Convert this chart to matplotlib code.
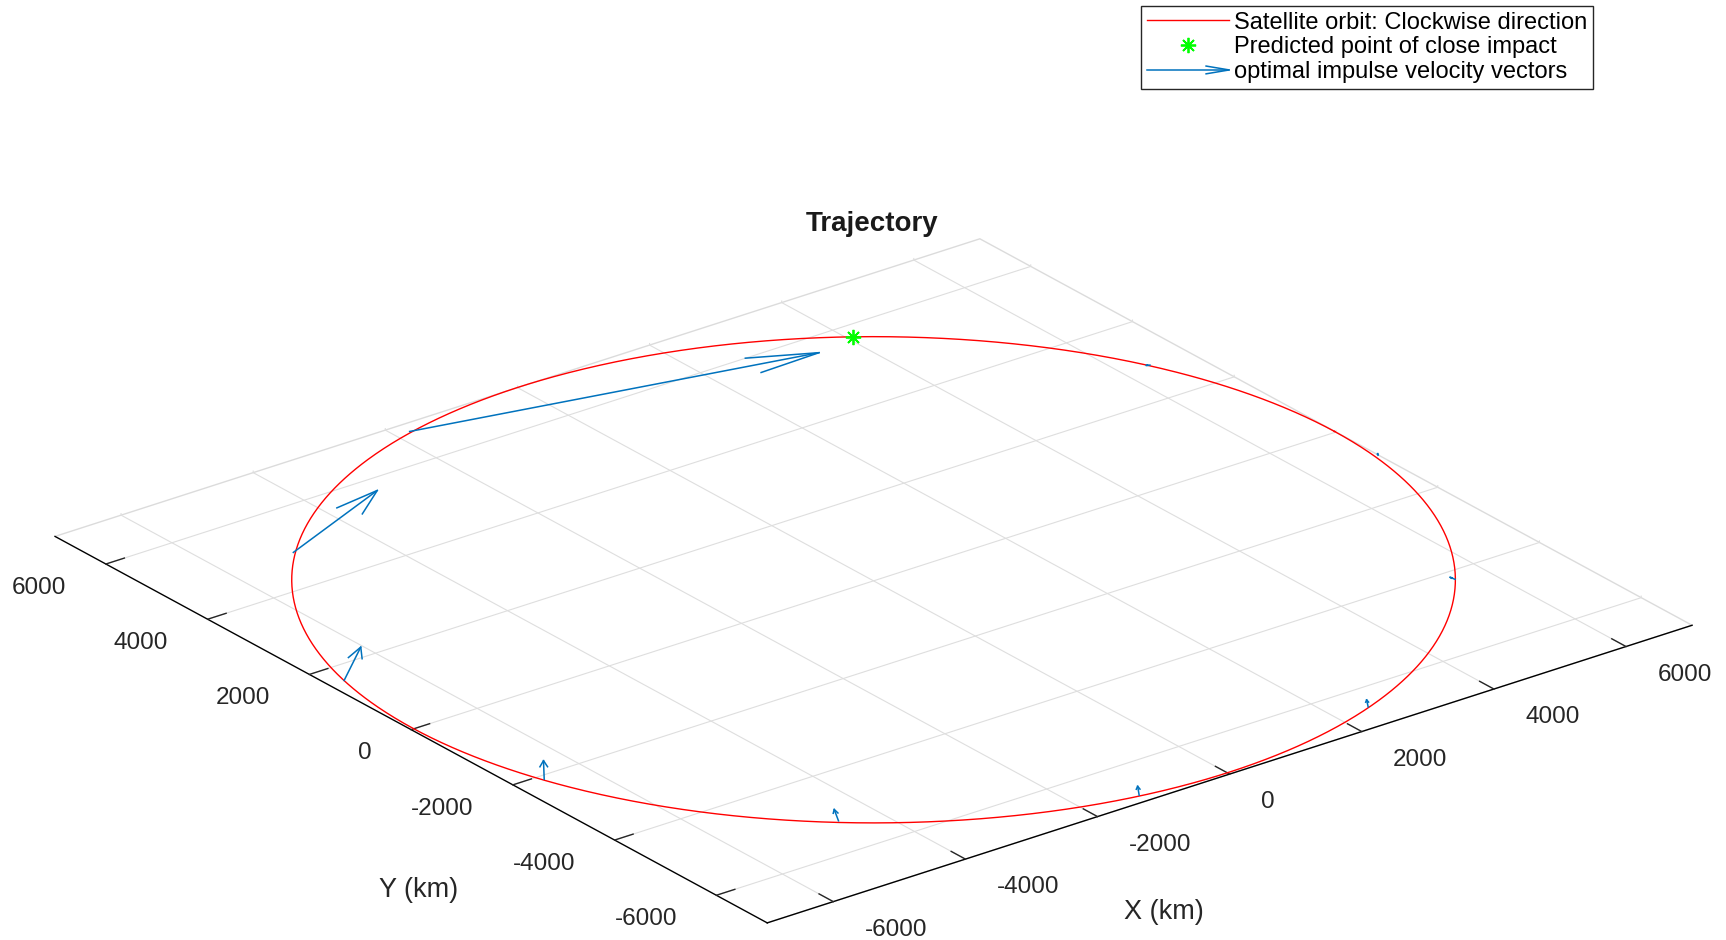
import numpy as np
import matplotlib
matplotlib.use('Agg')
import matplotlib.pyplot as plt
from matplotlib.lines import Line2D
from matplotlib.legend_handler import HandlerBase

plt.rcParams['font.family'] = ['Liberation Sans', 'DejaVu Sans']
plt.rcParams['grid.color'] = (0.87, 0.87, 0.87)
plt.rcParams['grid.linewidth'] = 0.8

# ---------------- data (km) ----------------
orbit_radius_km = 6978
axis_limit_km = 7000
tick_values = [-6000, -4000, -2000, 0, 2000, 4000, 6000]
tick_labels = ['-6000', '-4000', '-2000', '0', '2000', '4000', '6000']

impact_x = [4061]
impact_y = [5677]

# optimal impulse velocity vectors: tail positions and components
tail_x = [-1811, -5034, -6795, -6622, -4554, -1249, 2475, 5534, 6974, 6386]
tail_y = [6767, 4868, 1584, -2125, -5224, -6843, -6508, -4245, -860, 2859]
vec_u = [5271, 1883, 743, 319, 159, 143, 108, -12, 25, -40]
vec_v = [-1204, 795, 637, 428, 291, 216, 170, 82, 40, 20]

title_text = 'Trajectory'
xlabel_text = 'X (km)'
ylabel_text = 'Y (km)'
legend_labels = ['Satellite orbit: Clockwise direction',
                 'Predicted point of close impact',
                 'optimal impulse velocity vectors']

# ---------------- style ----------------
RED = (1, 0, 0)
GREEN = (0, 1, 0)
BLUE = (0, 0.447, 0.741)
TXT = '#262626'

fig = plt.figure(figsize=(17.26, 9.40), dpi=100)
fig.patch.set_facecolor('white')
ax = fig.add_axes([-0.0074, -0.5597, 1.0, 1.8362], projection='3d',
                  proj_type='ortho')
ax.view_init(elev=24.7, azim=-127.6)
ax.set_box_aspect((1, 1, 0.002), zoom=0.9285)
try:
    ax.set_xlim(-axis_limit_km, axis_limit_km, view_margin=0)
    ax.set_ylim(-axis_limit_km, axis_limit_km, view_margin=0)
    ax.set_zlim(-1, 1, view_margin=0)
except TypeError:
    ax.set_xlim(-axis_limit_km, axis_limit_km)
    ax.set_ylim(-axis_limit_km, axis_limit_km)
    ax.set_zlim(-1, 1)

# orbit
theta = np.linspace(0, 2 * np.pi, 1441)
ox = orbit_radius_km * np.cos(theta)
oy = orbit_radius_km * np.sin(theta)
ax.plot(ox, oy, np.zeros_like(ox), color=RED, lw=1.0, zorder=3)

# arrows (shaft + open head in the orbital plane)
for x0, y0, u, v in zip(tail_x, tail_y, vec_u, vec_v):
    L = np.hypot(u, v)
    ux, uy = u / L, v / L
    px, py = -uy, ux
    hl = min(0.33 * L, 870.0)
    hw = 0.26 * hl
    tx, ty = x0 + u, y0 + v
    ax.plot([x0, tx], [y0, ty], [0, 0], color=BLUE, lw=1.1, zorder=4)
    bx = [tx - hl * ux + hw * px, tx, tx - hl * ux - hw * px]
    by = [ty - hl * uy + hw * py, ty, ty - hl * uy - hw * py]
    ax.plot(bx, by, [0, 0, 0], color=BLUE, lw=1.1, zorder=4)

# impact point
ax.plot(impact_x, impact_y, [0], linestyle='none', marker=(8, 2, 0),
        markersize=11, markeredgewidth=1.3, color=GREEN, zorder=5)

# axes styling
ax.set_xticks(tick_values)
ax.set_xticklabels(tick_labels)
ax.set_yticks(tick_values)
ax.set_yticklabels(tick_labels)
ax.set_zticks([])
for axis in (ax.xaxis, ax.yaxis):
    axis.pane.set_facecolor((1, 1, 1, 0))
    axis.pane.set_edgecolor((1, 1, 1, 0))
    axis.line.set_color('black')
    axis.line.set_linewidth(1.0)
    axis._axinfo['tick']['inward_factor'] = 0.0
    axis._axinfo['tick']['outward_factor'] = 0.25
    axis._axinfo['tick']['linewidth'] = {True: 1.0, False: 0.5}
    axis._axinfo['tick']['color'] = 'black'
    axis._axinfo['grid']['color'] = (0.87, 0.87, 0.87)
    axis._axinfo['grid']['linewidth'] = 0.8
ax.zaxis.pane.set_facecolor('white')
ax.zaxis.pane.set_edgecolor((0.72, 0.72, 0.72))
ax.zaxis.line.set_color((1, 1, 1, 0))
ax.tick_params(axis='both', labelsize=17.5, colors=TXT)
ax.xaxis.set_tick_params(pad=20.5)
ax.yaxis.set_tick_params(pad=19.5)
plt.setp(ax.get_xticklabels(), ha='left', va='top')
plt.setp(ax.get_yticklabels(), ha='right', va='top')
ax.grid(True)

# axis titles (placed like MATLAB's horizontal 3-D axis labels)
fig.text(0.6741, 0.0303, xlabel_text, ha='center', va='center',
         fontsize=19.5, color=TXT)
fig.text(0.2424, 0.0537, ylabel_text, ha='center', va='center',
         fontsize=19.5, color=TXT)

fig.text(0.505, 0.762, title_text, ha='center', va='center',
         fontsize=20, fontweight='bold', color='#1a1a1a')


# legend
class HandlerArrow(HandlerBase):
    def create_artists(self, legend, orig_handle, xdescent, ydescent,
                       width, height, fontsize, trans):
        y = height / 2 - ydescent
        x0 = -xdescent
        x1 = -xdescent + width
        hl = 0.28 * width
        hw = 2.8
        shaft = Line2D([x0, x1], [y, y], color=BLUE, lw=1.1, transform=trans)
        head = Line2D([x1 - hl, x1, x1 - hl], [y + hw, y, y - hw],
                      color=BLUE, lw=1.1, transform=trans)
        return [shaft, head]


h_orbit = Line2D([], [], color=RED, lw=1.0)
h_star = Line2D([], [], linestyle='none', marker=(8, 2, 0), markersize=11,
                markeredgewidth=1.3, color=GREEN)
h_arrow = Line2D([], [], color=BLUE)
leg = fig.legend([h_orbit, h_star, h_arrow], legend_labels,
                 loc='upper right', bbox_to_anchor=(0.923, 0.994),
                 borderaxespad=0, fontsize=17, handlelength=3.5,
                 handletextpad=0.2, borderpad=0.25, labelspacing=0.12,
                 frameon=True, fancybox=False, edgecolor=TXT,
                 framealpha=1, handler_map={h_arrow: HandlerArrow()})
leg.get_frame().set_linewidth(1.0)

fig.savefig('out.png', dpi=100, facecolor='white')
